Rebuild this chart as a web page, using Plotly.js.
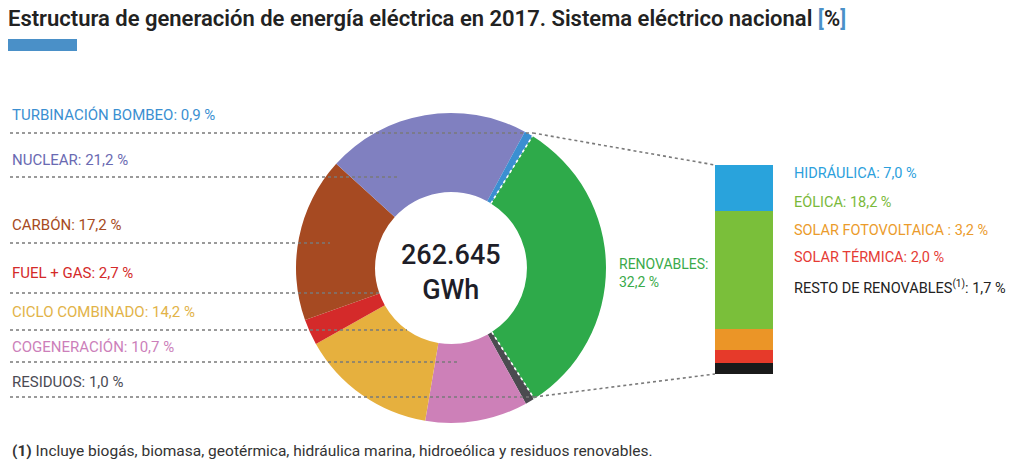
<!DOCTYPE html>
<html>
<head>
<meta charset="utf-8">
<script src="https://cdn.plot.ly/plotly-3.0.1.min.js"></script>
<style>html,body{margin:0;padding:0;background:#fff;}#chart{width:1011px;height:461px;}</style>
</head>
<body>
<div id="chart"></div>
<script>
// ---- data ----
const mixLabels = ['RENOVABLES', 'RESIDUOS', 'COGENERACIÓN', 'CICLO COMBINADO', 'FUEL + GAS', 'CARBÓN', 'NUCLEAR', 'TURBINACIÓN BOMBEO'];
const mixValues = [32.2, 1.0, 10.7, 14.2, 2.7, 17.2, 21.2, 0.9];
const mixColors = ['#2eaa4a', '#4b4b50', '#cd80b8', '#e6b03e', '#d42a2a', '#a64a22', '#8080c0', '#3b8fd1'];
const mixTextColors = ['#3aaa4a', '#4b4b55', '#cc7fba', '#e2b348', '#d42a2a', '#a64a22', '#6a6ab2', '#3b8fd1'];

const renewLabels = ['HIDRÁULICA', 'EÓLICA', 'SOLAR FOTOVOLTAICA ', 'SOLAR TÉRMICA', 'RESTO DE RENOVABLES<sup>(1)</sup>'];
const renewValues = [7.0, 18.2, 3.2, 2.0, 1.7];
const renewColors = ['#29a3dc', '#7abf3a', '#eb9527', '#e63a2a', '#1a1a1a'];
const renewTextColors = ['#2ba0dc', '#7ab93a', '#eb9b2b', '#e53b35', '#222222'];

const totalText = '262.645';
const totalUnit = 'GWh';
const titleText = 'Estructura de generación de energía eléctrica en 2017. Sistema eléctrico nacional';
const footnote = '<b>(1)</b> Incluye biogás, biomasa, geotérmica, hidráulica marina, hidroeólica y residuos renovables.';

// ---- layout config ----
const W = 1011, H = 461;
const CX = 451, CY = 268, R = 155, HOLE = 0.49;
const START_ANGLE = 31.7;
const BAR_X0 = 715, BAR_X1 = 773, BAR_Y0 = 165, BAR_Y1 = 374;
const LABELFONT = 'Roboto, sans-serif';
const px = x => x / W;
const py = y => 1 - y / H;
const fmt = v => v.toFixed(1).replace('.', ',') + ' %';

const leftOrder = [7, 6, 5, 4, 3, 2, 1];
const leftTextY = [115, 160, 225, 273, 312, 347, 382];
const leftLineY = [133, 177, 243, 293, 330, 362, 397];
const leftLineEnd = [533, 400, 330, 380, 407, 460, 534];

const total = mixValues.reduce((a, b) => a + b, 0);
const renewTotal = renewValues.reduce((a, b) => a + b, 0);

const traces = [];
traces.push({
  type: 'pie',
  values: mixValues,
  labels: mixLabels,
  marker: {colors: mixColors, line: {width: 0}},
  hole: HOLE,
  sort: false,
  direction: 'clockwise',
  rotation: START_ANGLE,
  textinfo: 'none',
  hoverinfo: 'label+value',
  domain: {x: [px(CX - R), px(CX + R)], y: [py(CY + R), py(CY - R)]},
  showlegend: false
});
for (let i = renewValues.length - 1; i >= 0; i--) {
  traces.push({
    type: 'bar',
    x: ['r'],
    y: [renewValues[i]],
    name: renewLabels[i],
    marker: {color: renewColors[i], line: {width: 0}},
    xaxis: 'x', yaxis: 'y',
    showlegend: false,
    hoverinfo: 'name+y'
  });
}

const annotations = [];
const shapes = [];
leftOrder.forEach((idx, k) => {
  annotations.push({
    xref: 'paper', yref: 'paper', x: px(10), y: py(leftTextY[k]),
    xanchor: 'left', yanchor: 'middle', showarrow: false,
    text: mixLabels[idx] + ': ' + fmt(mixValues[idx]),
    font: {family: LABELFONT, size: 15, color: mixTextColors[idx]}
  });
  shapes.push({
    type: 'line', xref: 'paper', yref: 'paper',
    x0: px(10), x1: px(leftLineEnd[k]), y0: py(leftLineY[k]), y1: py(leftLineY[k]),
    line: {color: '#7a7a7a', width: 1.6, dash: 'dot'}
  });
});

const a1 = START_ANGLE * Math.PI / 180;
const a2 = (START_ANGLE + 360 * mixValues[0] / total) * Math.PI / 180;
[a1, a2].forEach(a => {
  const ri = R * HOLE;
  shapes.push({
    type: 'line', xref: 'paper', yref: 'paper',
    x0: px(CX + ri * Math.sin(a)), y0: py(CY - ri * Math.cos(a)),
    x1: px(CX + R * Math.sin(a)), y1: py(CY - R * Math.cos(a)),
    line: {color: '#ffffff', width: 1.6, dash: 'dot'}
  });
});
shapes.push({
  type: 'line', xref: 'paper', yref: 'paper',
  x0: px(leftLineEnd[0]), y0: py(leftLineY[0]), x1: px(BAR_X0), y1: py(BAR_Y0),
  line: {color: '#7a7a7a', width: 1.6, dash: 'dot'}
});
shapes.push({
  type: 'line', xref: 'paper', yref: 'paper',
  x0: px(leftLineEnd[6]), y0: py(leftLineY[6]), x1: px(BAR_X0), y1: py(BAR_Y1),
  line: {color: '#7a7a7a', width: 1.6, dash: 'dot'}
});
shapes.push({
  type: 'rect', xref: 'paper', yref: 'paper',
  x0: px(8), x1: px(77), y0: py(51), y1: py(39),
  fillcolor: '#4a90c8', line: {width: 0}
});

annotations.push({
  xref: 'paper', yref: 'paper', x: px(617), y: py(273),
  xanchor: 'left', yanchor: 'middle', align: 'left', showarrow: false,
  text: mixLabels[0] + ':<br>' + fmt(mixValues[0]),
  font: {family: LABELFONT, size: 14, color: mixTextColors[0]}
});
const rightY = [173, 202, 230, 257, 287];
renewLabels.forEach((lab, i) => {
  annotations.push({
    xref: 'paper', yref: 'paper', x: px(792), y: py(rightY[i]),
    xanchor: 'left', yanchor: 'middle', showarrow: false,
    text: lab + ': ' + fmt(renewValues[i]),
    font: {family: LABELFONT, size: 14.5, color: renewTextColors[i]}
  });
});
annotations.push({
  xref: 'paper', yref: 'paper', x: px(CX), y: py(CY + 4),
  xanchor: 'center', yanchor: 'middle', showarrow: false,
  text: totalText + '<br>' + totalUnit,
  font: {family: 'Roboto, sans-serif', size: 27, weight: 500, color: '#1e1e28'}
});
annotations.push({
  xref: 'paper', yref: 'paper', x: px(10), y: py(451),
  xanchor: 'left', yanchor: 'middle', showarrow: false,
  text: footnote,
  font: {family: 'Roboto, sans-serif', size: 15.5, color: '#333333'}
});

const layout = {
  width: W, height: H,
  margin: {l: 0, r: 0, t: 0, b: 0},
  paper_bgcolor: '#ffffff', plot_bgcolor: 'rgba(0,0,0,0)',
  showlegend: false,
  barmode: 'stack', bargap: 0,
  title: {
    text: titleText + ' <span style="color:#4a90c8">[</span>%<span style="color:#4a90c8">]</span>',
    x: px(8), xanchor: 'left', y: py(18), yanchor: 'middle', xref: 'paper',
    font: {family: 'Roboto, sans-serif', size: 22, color: '#222222', weight: 600}
  },
  xaxis: {domain: [px(BAR_X0), px(BAR_X1)], range: [-0.5, 0.5], visible: false, fixedrange: true},
  yaxis: {domain: [py(BAR_Y1), py(BAR_Y0)], range: [0, renewTotal], visible: false, fixedrange: true},
  annotations: annotations,
  shapes: shapes
};

Plotly.newPlot('chart', traces, layout, {displayModeBar: false, staticPlot: true});
</script>
</body>
</html>
